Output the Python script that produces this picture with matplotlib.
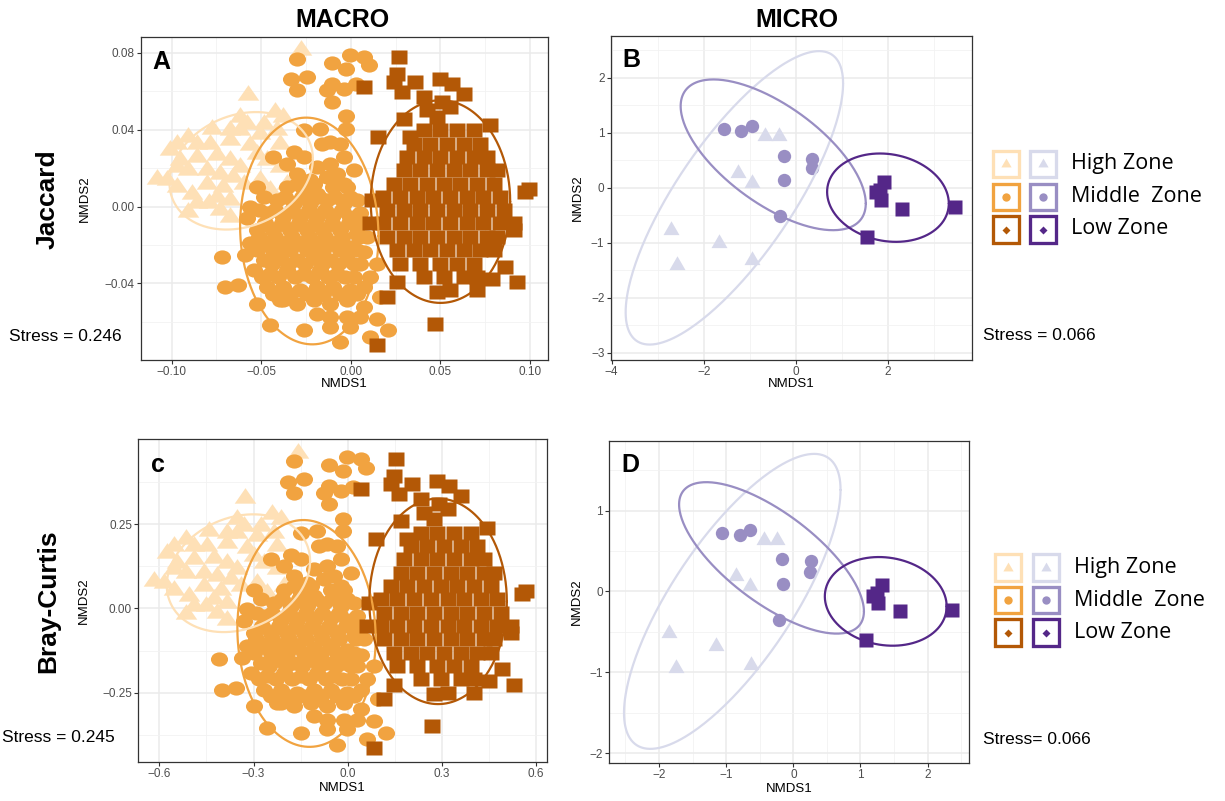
import numpy as np
import matplotlib
matplotlib.use("Agg")
import matplotlib.pyplot as plt
from matplotlib.path import Path
from matplotlib.patches import Rectangle

plt.rcParams['font.family'] = ['Liberation Sans', 'DejaVu Sans']

W, H = 1225, 801

# ---------------- colours / labels ----------------
MACRO_COLORS = ["#FEE0B6", "#F1A340", "#B35806"]
MICRO_COLORS = ["#D8DAEB", "#998EC3", "#542788"]
ZONES = ["High Zone", "Middle  Zone", "Low Zone"]
COL_TITLES = ["MACRO", "MICRO"]
ROW_TITLES = ["Jaccard", "Bray-Curtis"]
PANEL_LETTERS = ["A", "B", "c", "D"]
STRESS = ["Stress = 0.246", "Stress = 0.066", "Stress = 0.245", "Stress= 0.066"]

# ---------------- Panel A (MACRO, Jaccard) ----------------
A_high_x = [-0.0277, -0.0575, -0.0422, -0.0618, -0.0776, -0.0906, -0.0971, -0.1083, -0.1027, -0.0971,
            -0.0906, -0.0887, -0.0906, -0.0794, -0.0729, -0.0748, -0.0673, -0.0618, -0.0655, -0.0729,
            -0.0804, -0.0804, -0.0599, -0.0506, -0.0562, -0.0506, -0.0673, -0.0618, -0.0673, -0.0580,
            -0.0487, -0.0413, -0.0860, -0.0953, -0.1008, -0.0469, -0.0394, -0.0357, -0.0450, -0.0748,
            -0.0673, -0.0860, -0.0971, -0.0711, -0.0394, -0.0525, -0.0785, -0.0860, -0.0673, -0.0376]
A_high_y = [0.0813, 0.0579, 0.0492, 0.0466, 0.0406, 0.0362, 0.0328, 0.0146, 0.0137, 0.0206,
            0.0189, 0.0068, -0.0028, 0.0016, -0.0019, 0.0267, 0.0241, 0.0206, 0.0154, 0.0172,
            0.0189, 0.0120, 0.0120, 0.0137, 0.0319, 0.0380, 0.0397, 0.0397, 0.0345, 0.0432,
            0.0432, 0.0397, 0.0258, 0.0241, 0.0293, 0.0241, 0.0206, 0.0120, 0.0085, 0.0050,
            0.0033, 0.0016, 0.0102, 0.0102, 0.0328, 0.0276, 0.0328, 0.0328, -0.0054, 0.0466]

A_mid_x = [-0.0301, -0.0106, -0.0004, 0.0071, 0.0099, -0.0026, -0.0333, -0.0246, -0.0301, -0.0106,
           -0.0134, -0.0041, 0.0030, -0.0106, -0.0026, -0.0026, -0.0171, -0.0264, -0.0115, -0.0060,
           -0.0320, -0.0432, -0.0525, -0.0580, -0.0720, -0.0590, -0.0701, -0.0627, -0.0525, -0.0450,
           -0.0376, -0.0264, -0.0190, -0.0060, 0.0108, 0.0210, 0.0145, 0.0108, 0.0145, 0.0164,
           0.0071, 0.0089, 0.0052, 0.0071,
           -0.0190, -0.0115, -0.0301, -0.0227, -0.0134, -0.0078,
           -0.0357, -0.0264, -0.0190, -0.0097, -0.0022,
           -0.0487, -0.0413, -0.0320, -0.0227, -0.0134, -0.0041, 0.0033,
           -0.0562, -0.0469, -0.0376, -0.0283, -0.0190, -0.0097, -0.0004,
           -0.0525, -0.0432, -0.0339, -0.0246, -0.0153, -0.0060, 0.0033,
           -0.0562, -0.0469, -0.0376, -0.0283, -0.0190, -0.0097, -0.0004,
           -0.0487, -0.0394, -0.0301, -0.0208, -0.0115, -0.0022, 0.0052,
           -0.0543, -0.0450, -0.0357, -0.0264, -0.0171, -0.0078, 0.0015,
           -0.0469, -0.0376, -0.0283, -0.0190, -0.0097, -0.0004, 0.0071,
           -0.0394, -0.0301, -0.0208, -0.0115, -0.0022, 0.0071,
           -0.0115, -0.0022, 0.0052, -0.0115, -0.0004,
           -0.0357, -0.0264, -0.0041, -0.0162, 0.0015]
A_mid_y = [0.0770, 0.0749, 0.0787, 0.0779, 0.0735, 0.0718, 0.0661, 0.0675, 0.0605, 0.0640,
           0.0605, 0.0614, 0.0635, 0.0544, 0.0470, 0.0406, 0.0406, 0.0397, 0.0336, 0.0328,
           0.0284, 0.0258, 0.0102, -0.0062, -0.0262, -0.0253, -0.0418, -0.0409, -0.0505, -0.0617,
           -0.0487, -0.0643, -0.0557, -0.0704, -0.0678, -0.0643, -0.0583, -0.0366, -0.0297, -0.0470,
           -0.0236, -0.0158, -0.0036, -0.0088,
           0.0206, 0.0224, 0.0172, 0.0137, 0.0154, 0.0172,
           0.0102, 0.0085, 0.0068, 0.0102, 0.0102,
           0.0050, 0.0033, 0.0016, 0.0016, 0.0033, 0.0016, 0.0033,
           -0.0002, -0.0036, -0.0054, -0.0054, -0.0054, -0.0045, -0.0054,
           -0.0123, -0.0123, -0.0123, -0.0123, -0.0123, -0.0123, -0.0140,
           -0.0192, -0.0192, -0.0192, -0.0192, -0.0201, -0.0192, -0.0210,
           -0.0279, -0.0262, -0.0279, -0.0262, -0.0279, -0.0279, -0.0297,
           -0.0331, -0.0349, -0.0331, -0.0349, -0.0331, -0.0349, -0.0366,
           -0.0418, -0.0418, -0.0435, -0.0418, -0.0418, -0.0435, -0.0418,
           -0.0487, -0.0505, -0.0487, -0.0505, -0.0487, -0.0522,
           -0.0574, -0.0574, -0.0574, -0.0626, -0.0626,
           0.0224, 0.0258, 0.0258, 0.0328, 0.0189]
# additional middle-zone points filling the dense core (row by row)
A_mid_fill_rows_y = [0.0120, 0.0050, -0.0019, -0.0088, -0.0158, -0.0227, -0.0297, -0.0366, -0.0453]
A_mid_fill_rows_x = [[-0.0301, -0.0208, -0.0041],
                     [-0.0367, -0.0273, -0.0180, -0.0087, -0.0004],
                     [-0.0515, -0.0422, -0.0329, -0.0236, -0.0143, -0.0050],
                     [-0.0478, -0.0385, -0.0292, -0.0199, -0.0106, -0.0013],
                     [-0.0515, -0.0422, -0.0329, -0.0236, -0.0143, -0.0050, 0.0043],
                     [-0.0525, -0.0432, -0.0339, -0.0246, -0.0153, -0.0060, 0.0033],
                     [-0.0441, -0.0348, -0.0255, -0.0162, -0.0069, 0.0015],
                     [-0.0497, -0.0404, -0.0311, -0.0218, -0.0125, -0.0032],
                     [-0.0432, -0.0339, -0.0246, -0.0153, -0.0060, 0.0033]]

A_low_out_x = [0.0266, 0.0071, 0.0257, 0.0238, 0.0285, 0.0359, 0.0499, 0.0564, 0.0629, 0.0406,
               0.0508, 0.0554, 0.0294, 0.0154, 0.0331, 0.0778, 0.0424, 0.0480, 0.0992, 0.0973,
               0.0117, 0.0908, 0.0908, 0.0861, 0.0927, 0.0787, 0.0257, 0.0201, 0.0145, 0.0471,
               0.0480, 0.0108, 0.0703]
A_low_out_y = [0.0779, 0.0623, 0.0692, 0.0649, 0.0597, 0.0649, 0.0666, 0.0640, 0.0588, 0.0570,
               0.0544, 0.0518, 0.0458, 0.0362, 0.0362, 0.0423, 0.0501, 0.0466, 0.0094, 0.0076,
               0.0033, -0.0088, -0.0123, -0.0314, -0.0392, -0.0375, -0.0392, -0.0470, -0.0721, -0.0609,
               -0.0444, -0.0088, -0.0435]
A_low_rows_y = [0.0397, 0.0328, 0.0258, 0.0189, 0.0120, 0.0050, -0.0019, -0.0088, -0.0158,
                -0.0227, -0.0297, -0.0366, -0.0435]
A_low_rows_x = [[0.0406, 0.0499, 0.0592, 0.0685],
                [0.0350, 0.0443, 0.0536, 0.0629, 0.0722],
                [0.0313, 0.0406, 0.0499, 0.0592, 0.0685, 0.0759],
                [0.0294, 0.0387, 0.0480, 0.0573, 0.0666, 0.0759, 0.0815],
                [0.0238, 0.0331, 0.0424, 0.0517, 0.0610, 0.0703, 0.0796],
                [0.0182, 0.0275, 0.0368, 0.0461, 0.0554, 0.0647, 0.0740, 0.0833],
                [0.0201, 0.0294, 0.0387, 0.0480, 0.0573, 0.0666, 0.0759, 0.0852],
                [0.0182, 0.0275, 0.0368, 0.0461, 0.0554, 0.0647, 0.0740, 0.0833],
                [0.0201, 0.0294, 0.0387, 0.0480, 0.0573, 0.0666, 0.0759, 0.0815],
                [0.0257, 0.0350, 0.0443, 0.0536, 0.0629, 0.0722, 0.0796],
                [0.0275, 0.0387, 0.0499, 0.0592, 0.0685],
                [0.0406, 0.0517, 0.0629, 0.0703],
                [0.0554]]
# ellipse: centre x, centre y, a11, a21, a22  (x = cx + a11 cos t ; y = cy + a21 cos t + a22 sin t)
A_ellipses = [(-0.0612, 0.0186, 0.0400, 0.0063, 0.0299),
              (-0.0232, -0.0127, 0.0386, -0.0026, 0.0589),
              (0.0500, 0.0026, 0.0389, 0.0, 0.0527)]

# ---------------- Panel C (MACRO, Bray-Curtis) ----------------
C_high_x = [-0.157, -0.327, -0.240, -0.351, -0.442, -0.516, -0.553, -0.617, -0.585, -0.553,
            -0.516, -0.505, -0.516, -0.452, -0.415, -0.426, -0.383, -0.351, -0.373, -0.415,
            -0.458, -0.458, -0.341, -0.288, -0.320, -0.288, -0.383, -0.351, -0.383, -0.330,
            -0.277, -0.235, -0.490, -0.543, -0.574, -0.267, -0.224, -0.203, -0.256, -0.426,
            -0.383, -0.490, -0.553, -0.405, -0.224, -0.298, -0.447, -0.490, -0.383, -0.213]
C_high_y = [0.462, 0.329, 0.279, 0.264, 0.230, 0.205, 0.185, 0.081, 0.076, 0.116,
            0.106, 0.037, -0.018, 0.007, -0.013, 0.150, 0.136, 0.116, 0.086, 0.096,
            0.106, 0.066, 0.066, 0.076, 0.180, 0.215, 0.225, 0.225, 0.195, 0.245,
            0.245, 0.225, 0.146, 0.136, 0.165, 0.136, 0.116, 0.066, 0.047, 0.027,
            0.017, 0.007, 0.056, 0.056, 0.185, 0.155, 0.185, 0.185, -0.033, 0.264]

C_mid_x = [-0.171, -0.059, -0.001, 0.041, 0.057, -0.014, -0.189, -0.139, -0.171, -0.059,
           -0.075, -0.022, 0.018, -0.059, -0.014, -0.014, -0.097, -0.150, -0.065, -0.033,
           -0.182, -0.245, -0.298, -0.330, -0.410, -0.336, -0.399, -0.357, -0.298, -0.256,
           -0.213, -0.150, -0.107, -0.033, 0.063, 0.121, 0.084, 0.063, 0.084, 0.095,
           0.041, 0.052, 0.031, 0.041,
           -0.107, -0.065, -0.171, -0.128, -0.075, -0.044,
           -0.203, -0.150, -0.107, -0.054, -0.012,
           -0.277, -0.235, -0.182, -0.128, -0.075, -0.022, 0.020,
           -0.320, -0.267, -0.213, -0.160, -0.107, -0.054, -0.001,
           -0.298, -0.245, -0.192, -0.139, -0.086, -0.033, 0.020,
           -0.320, -0.267, -0.213, -0.160, -0.107, -0.054, -0.001,
           -0.277, -0.224, -0.171, -0.118, -0.065, -0.012, 0.031,
           -0.309, -0.256, -0.203, -0.150, -0.097, -0.044, 0.010,
           -0.267, -0.213, -0.160, -0.107, -0.054, -0.001, 0.041,
           -0.224, -0.171, -0.118, -0.065, -0.012, 0.041,
           -0.065, -0.012, 0.031, -0.065, -0.001,
           -0.203, -0.150, -0.022, -0.091, 0.010]
C_mid_y = [0.438, 0.426, 0.448, 0.443, 0.418, 0.408, 0.375, 0.383, 0.344, 0.363,
           0.344, 0.349, 0.360, 0.309, 0.266, 0.230, 0.230, 0.225, 0.190, 0.185,
           0.160, 0.146, 0.056, -0.038, -0.151, -0.147, -0.241, -0.236, -0.290, -0.354,
           -0.280, -0.370, -0.320, -0.404, -0.389, -0.370, -0.335, -0.211, -0.171, -0.270,
           -0.137, -0.092, -0.023, -0.052,
           0.116, 0.126, 0.096, 0.076, 0.086, 0.096,
           0.056, 0.047, 0.037, 0.056, 0.056,
           0.027, 0.017, 0.007, 0.007, 0.017, 0.007, 0.017,
           -0.003, -0.023, -0.033, -0.033, -0.033, -0.028, -0.033,
           -0.072, -0.072, -0.072, -0.072, -0.072, -0.072, -0.082,
           -0.112, -0.112, -0.112, -0.112, -0.117, -0.112, -0.122,
           -0.161, -0.151, -0.161, -0.151, -0.161, -0.161, -0.171,
           -0.191, -0.201, -0.191, -0.201, -0.191, -0.201, -0.211,
           -0.241, -0.241, -0.250, -0.241, -0.241, -0.250, -0.241,
           -0.280, -0.290, -0.280, -0.290, -0.280, -0.300,
           -0.330, -0.330, -0.330, -0.359, -0.359,
           0.126, 0.146, 0.146, 0.185, 0.106]
C_mid_fill_rows_y = [0.066, 0.027, -0.013, -0.052, -0.092, -0.132, -0.171, -0.211, -0.260]
C_mid_fill_rows_x = [[-0.171, -0.118, -0.022],
                     [-0.208, -0.155, -0.102, -0.049, -0.001],
                     [-0.293, -0.240, -0.187, -0.134, -0.081, -0.028],
                     [-0.272, -0.219, -0.166, -0.113, -0.059, -0.006],
                     [-0.293, -0.240, -0.187, -0.134, -0.081, -0.028, 0.025],
                     [-0.298, -0.245, -0.192, -0.139, -0.086, -0.033, 0.020],
                     [-0.251, -0.198, -0.144, -0.091, -0.038, 0.010],
                     [-0.282, -0.229, -0.176, -0.123, -0.070, -0.017],
                     [-0.245, -0.192, -0.139, -0.086, -0.033, 0.020]]

C_low_out_x = [0.153, 0.041, 0.148, 0.137, 0.164, 0.206, 0.286, 0.323, 0.360, 0.233,
               0.291, 0.318, 0.169, 0.089, 0.190, 0.445, 0.243, 0.275, 0.567, 0.556,
               0.068, 0.519, 0.519, 0.493, 0.530, 0.450, 0.148, 0.116, 0.084, 0.270,
               0.275, 0.063, 0.402]
C_low_out_y = [0.443, 0.353, 0.393, 0.368, 0.339, 0.368, 0.378, 0.363, 0.334, 0.324,
               0.309, 0.294, 0.259, 0.205, 0.205, 0.240, 0.284, 0.264, 0.051, 0.042,
               0.017, -0.052, -0.072, -0.181, -0.226, -0.216, -0.226, -0.270, -0.414, -0.350,
               -0.255, -0.052, -0.250]
C_low_rows_y = [0.225, 0.185, 0.146, 0.106, 0.066, 0.027, -0.013, -0.052, -0.092,
                -0.132, -0.171, -0.211, -0.250]
C_low_rows_x = [[0.233, 0.286, 0.339, 0.392],
                [0.201, 0.254, 0.307, 0.360, 0.413],
                [0.179, 0.233, 0.286, 0.339, 0.392, 0.434],
                [0.169, 0.222, 0.275, 0.328, 0.381, 0.434, 0.466],
                [0.137, 0.190, 0.243, 0.296, 0.349, 0.402, 0.456],
                [0.105, 0.158, 0.211, 0.264, 0.318, 0.371, 0.424, 0.477],
                [0.116, 0.169, 0.222, 0.275, 0.328, 0.381, 0.434, 0.487],
                [0.105, 0.158, 0.211, 0.264, 0.318, 0.371, 0.424, 0.477],
                [0.116, 0.169, 0.222, 0.275, 0.328, 0.381, 0.434, 0.466],
                [0.148, 0.201, 0.254, 0.307, 0.360, 0.413, 0.456],
                [0.158, 0.222, 0.286, 0.339, 0.392],
                [0.233, 0.296, 0.360, 0.402],
                [0.318]]
C_ellipses = [(-0.348, 0.1045, 0.2283, 0.0361, 0.1710),
              (-0.1311, -0.0743, 0.2203, -0.0149, 0.3363),
              (0.288, 0.021, 0.219, 0.0, 0.305)]

# ---------------- Panel B (MICRO, Jaccard) ----------------
B_high_x = [-0.659, -0.362, -1.254, -0.949, -2.703, -1.667, -2.580, -0.942]
B_high_y = [0.939, 0.939, 0.273, 0.079, -0.770, -0.994, -1.406, -1.315]
B_mid_x = [-1.565, -1.181, -0.949, -0.261, 0.355, 0.355, -0.246, -0.333]
B_mid_y = [1.061, 1.030, 1.121, 0.582, 0.533, 0.352, 0.139, -0.509]
B_low_x = [1.920, 1.826, 1.754, 1.862, 2.319, 3.471, 1.558]
B_low_y = [0.109, -0.042, -0.073, -0.224, -0.376, -0.345, -0.891]
B_ellipses = [(-1.333, -0.182, 2.362, 2.079, 1.671),
              (-0.489, 0.600, 2.011, -0.885, 1.046),
              (2.004, -0.179, 1.322, -0.106, 0.796)]

# ---------------- Panel D (MICRO, Bray-Curtis) ----------------
D_high_x = [-0.435, -0.241, -0.857, -0.639, -1.851, -1.145, -1.752, -0.624]
D_high_y = [0.639, 0.639, 0.194, 0.062, -0.515, -0.680, -0.948, -0.906]
D_mid_x = [-1.061, -0.798, -0.639, -0.176, 0.256, 0.246, -0.161, -0.216]
D_mid_y = [0.721, 0.700, 0.762, 0.400, 0.371, 0.235, 0.095, -0.350]
D_low_x = [1.314, 1.240, 1.190, 1.265, 1.588, 2.368, 1.076]
D_low_y = [0.082, -0.021, -0.062, -0.144, -0.247, -0.235, -0.597]
D_ellipses = [(-0.909, -0.124, 1.612, 1.380, 1.194),
              (-0.325, 0.414, 1.376, -0.661, 0.664),
              (1.376, -0.124, 0.907, -0.062, 0.545)]

# ---------------- axes ticks ----------------
A_xticks, A_xlabels = [-0.10, -0.05, 0.00, 0.05, 0.10], ["\u22120.10", "\u22120.05", "0.00", "0.05", "0.10"]
A_yticks, A_ylabels = [-0.04, 0.00, 0.04, 0.08], ["\u22120.04", "0.00", "0.04", "0.08"]
B_xticks, B_xlabels = [-4, -2, 0, 2], ["\u22124", "\u22122", "0", "2"]
B_yticks, B_ylabels = [-3, -2, -1, 0, 1, 2], ["\u22123", "\u22122", "\u22121", "0", "1", "2"]
C_xticks, C_xlabels = [-0.6, -0.3, 0.0, 0.3, 0.6], ["\u22120.6", "\u22120.3", "0.0", "0.3", "0.6"]
C_yticks, C_ylabels = [-0.25, 0.00, 0.25], ["\u22120.25", "0.00", "0.25"]
D_xticks, D_xlabels = [-2, -1, 0, 1, 2], ["\u22122", "\u22121", "0", "1", "2"]
D_yticks, D_ylabels = [-2, -1, 0, 1], ["\u22122", "\u22121", "0", "1"]


def rows_to_xy(rows_y, rows_x):
    xs, ys = [], []
    for yv, xr in zip(rows_y, rows_x):
        xs += list(xr)
        ys += [yv] * len(xr)
    return xs, ys


_x, _y = rows_to_xy(A_low_rows_y, A_low_rows_x)
A_low_x, A_low_y = A_low_out_x + _x, A_low_out_y + _y
_x, _y = rows_to_xy(C_low_rows_y, C_low_rows_x)
C_low_x, C_low_y = C_low_out_x + _x, C_low_out_y + _y
_x, _y = rows_to_xy(A_mid_fill_rows_y, A_mid_fill_rows_x)
A_mid_all_x, A_mid_all_y = A_mid_x + _x, A_mid_y + _y
_x, _y = rows_to_xy(C_mid_fill_rows_y, C_mid_fill_rows_x)
C_mid_all_x, C_mid_all_y = C_mid_x + _x, C_mid_y + _y

# ---------------- marker shapes ----------------
_c = Path.unit_circle()
M_ELL = Path(_c.vertices * np.array([1.2, 1.0]), _c.codes)
M_SQW = Path([(-0.6, -0.5), (0.6, -0.5), (0.6, 0.5), (-0.6, 0.5), (-0.6, -0.5)], closed=True)
M_TRW = Path([(-1.2, -0.577), (1.2, -0.577), (0.0, 1.155), (-1.2, -0.577)], closed=True)
M_TRI = Path([(-1.0, -0.577), (1.0, -0.577), (0.0, 1.155), (-1.0, -0.577)], closed=True)

fig = plt.figure(figsize=(W / 100, H / 100), dpi=100)


def add_axes_px(l, t, r, b):
    return fig.add_axes([l / W, 1 - b / H, (r - l) / W, (b - t) / H])


def ellipse_xy(p):
    cx, cy, a11, a21, a22 = p
    t = np.linspace(0, 2 * np.pi, 300)
    return cx + a11 * np.cos(t), cy + a21 * np.cos(t) + a22 * np.sin(t)


def style_axes(ax, xlim, ylim, xt, xl, yt, yl):
    ax.set_xlim(*xlim)
    ax.set_ylim(*ylim)
    ax.set_xticks(xt)
    ax.set_xticklabels(xl)
    ax.set_yticks(yt)
    ax.set_yticklabels(yl)
    xs = np.diff(xt)[0] / 2.0
    ys = np.diff(yt)[0] / 2.0
    xmin_ = [v for v in np.arange(xt[0] - xs, xt[-1] + xs * 1.01, 2 * xs) if xlim[0] < v < xlim[1]]
    ymin_ = [v for v in np.arange(yt[0] - ys, yt[-1] + ys * 1.01, 2 * ys) if ylim[0] < v < ylim[1]]
    ax.set_xticks(xmin_, minor=True)
    ax.set_yticks(ymin_, minor=True)
    ax.grid(True, which='major', color='#EBEBEB', lw=1.1)
    ax.grid(True, which='minor', color='#F2F2F2', lw=0.6)
    ax.set_axisbelow(True)
    ax.tick_params(which='major', length=3, width=0.8, color='#333333',
                   labelsize=8.5, labelcolor='#4D4D4D', pad=1.5)
    ax.tick_params(which='minor', length=0)
    for s in ax.spines.values():
        s.set_color('#333333')
        s.set_linewidth(0.9)


def draw_panel(ax, groups, ellipses, colors):
    for (x, y, mk, ms), col in zip(groups, colors):
        ax.plot(x, y, ls='none', marker=mk, ms=ms, mfc=col, mec='none', zorder=2)
    for p, col in zip(ellipses, colors):
        ex, ey = ellipse_xy(p)
        ax.plot(ex, ey, color=col, lw=1.6, zorder=3, solid_capstyle='round')


axA = add_axes_px(141, 37, 548, 360)
axB = add_axes_px(610.7, 36, 972, 360)
axC = add_axes_px(138.3, 439.3, 546.7, 761.7)
axD = add_axes_px(609.3, 440.7, 969.3, 762.7)

style_axes(axA, (-0.1171, 0.110), (-0.0798, 0.0882), A_xticks, A_xlabels, A_yticks, A_ylabels)
style_axes(axB, (-4.02, 3.83), (-3.13, 2.76), B_xticks, B_xlabels, B_yticks, B_ylabels)
style_axes(axC, (-0.667, 0.634), (-0.455, 0.502), C_xticks, C_xlabels, C_yticks, C_ylabels)
style_axes(axD, (-2.74, 2.62), (-2.12, 1.864), D_xticks, D_xlabels, D_yticks, D_ylabels)

draw_panel(axA, [(A_high_x, A_high_y, M_TRW, 15.5), (A_mid_all_x, A_mid_all_y, M_ELL, 12.3),
                 (A_low_x, A_low_y, M_SQW, 12.2)], A_ellipses, MACRO_COLORS)
draw_panel(axC, [(C_high_x, C_high_y, M_TRW, 15.5), (C_mid_all_x, C_mid_all_y, M_ELL, 12.3),
                 (C_low_x, C_low_y, M_SQW, 12.2)], C_ellipses, MACRO_COLORS)
draw_panel(axB, [(B_high_x, B_high_y, M_TRI, 13.3), (B_mid_x, B_mid_y, 'o', 9.6),
                 (B_low_x, B_low_y, 's', 9.6)], B_ellipses, MICRO_COLORS)
draw_panel(axD, [(D_high_x, D_high_y, M_TRI, 13.3), (D_mid_x, D_mid_y, 'o', 9.6),
                 (D_low_x, D_low_y, 's', 9.6)], D_ellipses, MICRO_COLORS)


def T(x, y, s, **kw):
    fig.text(x / W, 1 - y / H, s, **kw)


# titles and row labels
T(342, 27, COL_TITLES[0], ha='center', va='baseline', fontsize=18, fontweight='bold')
T(797, 27, COL_TITLES[1], ha='center', va='baseline', fontsize=18, fontweight='bold')
T(48, 199, ROW_TITLES[0], ha='center', va='center', rotation=90, fontsize=19, fontweight='bold')
T(48, 601, ROW_TITLES[1], ha='center', va='center', rotation=90, fontsize=19, fontweight='bold')

# panel letters
T(161.5, 69.3, PANEL_LETTERS[0], ha='center', va='baseline', fontsize=18, fontweight='bold')
T(631.5, 67, PANEL_LETTERS[1], ha='center', va='baseline', fontsize=18, fontweight='bold')
T(157.5, 472, PANEL_LETTERS[2], ha='center', va='baseline', fontsize=18, fontweight='bold')
T(630.5, 472, PANEL_LETTERS[3], ha='center', va='baseline', fontsize=18, fontweight='bold')

# axis titles
for (x, y) in [(344.5, 384), (791, 384), (342.5, 788), (789, 789)]:
    T(x, y, "NMDS1", ha='center', va='center', fontsize=9.5)
for (x, y) in [(85, 198.5), (578, 198), (84, 600.5), (577, 601.7)]:
    T(x, y, "NMDS2", ha='center', va='center', rotation=90, fontsize=9.5)

# stress
T(9, 337, STRESS[0], ha='left', va='center', fontsize=12.5)
T(983, 335, STRESS[1], ha='left', va='center', fontsize=12.5)
T(2, 738, STRESS[2], ha='left', va='center', fontsize=12.5)
T(983, 739, STRESS[3], ha='left', va='center', fontsize=12.5)

# legends (overlay in pixel coordinates)
ov = fig.add_axes([0, 0, 1, 1])
ov.set_xlim(0, W)
ov.set_ylim(H, 0)
ov.axis('off')
ov.patch.set_alpha(0)


def legend_block(col_lefts, row_tops, text_x, text_ys):
    bw = 3.3
    leg_marks = [(M_TRI, 8.5), ('o', 6.0), ('D', 3.6)]
    for cl, cols in zip(col_lefts, [MACRO_COLORS, MICRO_COLORS]):
        for ri, rt in enumerate(row_tops):
            ov.add_patch(Rectangle((cl + bw / 2, rt + bw / 2), 30 - bw, 30 - bw,
                                   facecolor='white', edgecolor=cols[ri], lw=bw * 0.72))
            mk, ms = leg_marks[ri]
            ov.plot([cl + 15], [rt + 15], ls='none', marker=mk, ms=ms, mfc=cols[ri], mec='none')
    for ri, ty in enumerate(text_ys):
        ov.text(text_x, ty, ZONES[ri], ha='left', va='center', fontsize=15.5,
                family=['Open Sans', 'DejaVu Sans'])


legend_block([991, 1028], [149, 182, 214.5], 1071, [164, 196.5, 229])
legend_block([993, 1031], [552.5, 585, 617.5], 1074, [568, 600, 632.5])

fig.savefig("out.png", dpi=100)
